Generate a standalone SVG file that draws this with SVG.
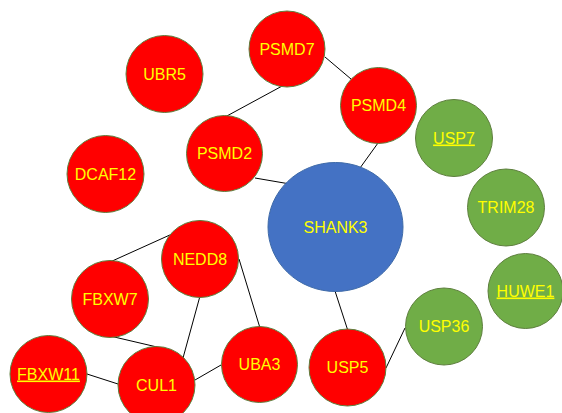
<svg xmlns="http://www.w3.org/2000/svg" width="562" height="413" viewBox="0 0 562 413">
<style>
.r{fill:#FF0000;stroke:#5E7F3E;stroke-width:1}
.g{fill:#70AD47;stroke:#5E7F3E;stroke-width:1}
.b{fill:#4472C4;stroke:#3E6AA8;stroke-width:1}
text{font-family:"Liberation Sans",Arial,sans-serif;font-size:16px;fill:#FFFF00;text-anchor:middle}
.u{text-decoration:underline}
#edges line{stroke:#000;stroke-width:1}
</style>
<rect width="562" height="413" fill="#fff"/>
<g id="edges">
<line x1="225" y1="117" x2="284" y2="85"/>
<line x1="325" y1="57" x2="351" y2="79"/>
<line x1="378" y1="143" x2="360" y2="168"/>
<line x1="255" y1="178" x2="290" y2="184"/>
<line x1="335" y1="291" x2="348" y2="331"/>
<line x1="386" y1="368" x2="405" y2="328"/>
<line x1="172" y1="234" x2="110" y2="262"/>
<line x1="200" y1="296" x2="183" y2="358"/>
<line x1="239" y1="259" x2="260" y2="328"/>
<line x1="110" y1="336" x2="157" y2="347"/>
<line x1="87" y1="374" x2="118" y2="384"/>
<line x1="195" y1="380" x2="221" y2="365"/>
</g>
<g id="UBR5"><circle class="r" cx="164.5" cy="74" r="38.5"/><text x="164.5" y="79.5">UBR5</text></g>
<g id="PSMD7"><circle class="r" cx="287" cy="49" r="38"/><text x="287" y="54.5">PSMD7</text></g>
<g id="PSMD4"><circle class="r" cx="378.5" cy="105.5" r="38"/><text x="378.5" y="111">PSMD4</text></g>
<g id="PSMD2"><circle class="r" cx="224.5" cy="153.5" r="38"/><text x="224.5" y="159">PSMD2</text></g>
<g id="DCAF12"><circle class="r" cx="105.5" cy="174" r="38.5"/><text x="105.5" y="179.5">DCAF12</text></g>
<g id="USP7"><circle class="g" cx="454" cy="138" r="38.5"/><text class="u" x="454" y="143.5">USP7</text></g>
<g id="TRIM28"><circle class="g" cx="506" cy="207.5" r="38.5"/><text x="506" y="213">TRIM28</text></g>
<g id="SHANK3"><ellipse class="b" cx="335.5" cy="227" rx="67.5" ry="64.5"/><text x="335.5" y="233">SHANK3</text></g>
<g id="HUWE1"><circle class="g" cx="525.5" cy="291" r="37.5"/><text class="u" x="525.5" y="296.5">HUWE1</text></g>
<g id="USP36"><circle class="g" cx="444" cy="326.5" r="38.5"/><text x="444" y="332">USP36</text></g>
<g id="USP5"><circle class="r" cx="347.5" cy="367.5" r="38.5"/><text x="347.5" y="373">USP5</text></g>
<g id="NEDD8"><circle class="r" cx="200" cy="259" r="38.5"/><text x="200" y="264.5">NEDD8</text></g>
<g id="FBXW7"><circle class="r" cx="110" cy="299" r="38.5"/><text x="110" y="304.5">FBXW7</text></g>
<g id="FBXW11"><circle class="r" cx="48.5" cy="374" r="38.5"/><text class="u" x="48.5" y="379.5">FBXW11</text></g>
<g id="CUL1"><circle class="r" cx="156.5" cy="385" r="38.5"/><text x="156.5" y="390.5">CUL1</text></g>
<g id="UBA3"><circle class="r" cx="259.5" cy="364.5" r="38"/><text x="259.5" y="370">UBA3</text></g>
</svg>
